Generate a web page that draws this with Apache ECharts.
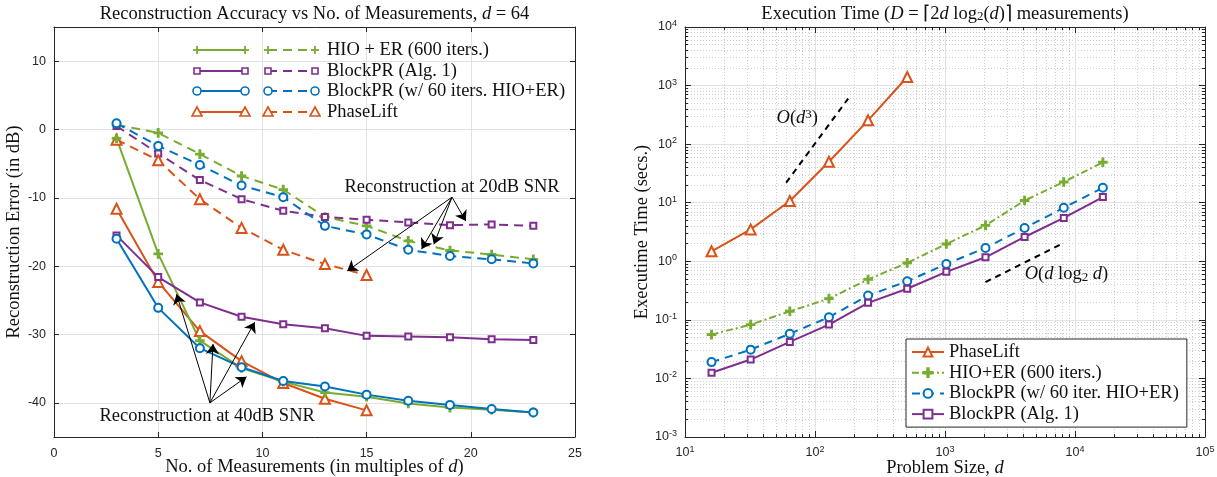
<!DOCTYPE html>
<html><head><meta charset="utf-8">
<script src="https://cdn.jsdelivr.net/npm/echarts@6/dist/echarts.min.js"></script>
<style>html,body{margin:0;padding:0;background:#fff}#c{width:1217px;height:477px}</style>
</head><body><div id="c"></div>
<script>
// ---------- LEFT CHART DATA ----------
const snrX = [3, 5, 7, 9, 11, 13, 15, 17, 19, 21, 23];
const plX = [3, 5, 7, 9, 11, 13, 15];
// 20 dB SNR (dashed)
const hio20 = [0.7, -0.5, -3.6, -6.8, -8.8, -12.8, -14.1, -16.3, -17.7, -18.3, -19.0];
const bpr20 = [0.5, -3.5, -7.4, -10.2, -11.9, -12.8, -13.2, -13.6, -14.0, -13.9, -14.1];
const bpr60_20 = [0.9, -2.4, -5.2, -8.2, -9.9, -14.1, -15.35, -17.6, -18.5, -19.0, -19.6];
const pl20 = [-1.5, -4.5, -10.2, -14.4, -17.6, -19.7, -21.3];
// 40 dB SNR (solid)
const hio40 = [-1.3, -18.2, -30.9, -34.9, -36.9, -38.5, -39.1, -40.1, -40.7, -41.0, -41.4];
const bpr40 = [-15.5, -21.6, -25.3, -27.4, -28.5, -29.1, -30.2, -30.3, -30.4, -30.7, -30.8];
const bpr60_40 = [-16.0, -26.1, -32.0, -34.8, -36.8, -37.6, -38.8, -39.7, -40.3, -40.9, -41.4];
const pl40 = [-11.6, -22.3, -29.5, -33.9, -37.1, -39.4, -41.1];
const leftYTicks = [-40, -30, -20, -10, 0, 10];
const leftLegendNames = ['HIO + ER (600 iters.)', 'BlockPR (Alg. 1)', 'BlockPR (w/ 60 iters. HIO+ER)', 'PhaseLift'];
// annotation arrows [from, to] in data units
const arrows20 = [[[19.1, -9.9], [19.76, -13.4]], [[19.1, -9.9], [18.23, -16.8]], [[19.1, -9.9], [17.64, -17.5]], [[19.1, -9.9], [14.07, -20.7]]];
const arrows40 = [[[7.48, -40.0], [5.88, -24.1]], [[7.48, -40.0], [7.63, -31.4]], [[7.48, -40.0], [9.63, -28.2]], [[7.48, -40.0], [9.24, -36.2]]];
const label20 = {text: 'Reconstruction at 20dB SNR', at: [19.1, -8.4]};
const label40 = {text: 'Reconstruction at 40dB SNR', at: [7.35, -41.9]};

// ---------- RIGHT CHART DATA ----------
const dSizes = [16, 32, 64, 128, 256, 512, 1024, 2048, 4096, 8192, 16384];
const plTime = [1.48, 3.5, 10.7, 50, 255, 1400];
const hioTime = [0.056, 0.083, 0.14, 0.23, 0.49, 0.94, 1.97, 4.1, 10.9, 22.6, 49];
const bpr60Time = [0.019, 0.031, 0.058, 0.111, 0.26, 0.456, 0.90, 1.69, 3.7, 8.2, 18];
const bprTime = [0.0125, 0.021, 0.042, 0.083, 0.195, 0.34, 0.66, 1.17, 2.6, 5.5, 12.5];
const cubicRef = [[60, 22], [180, 600]];
const dlogdRef = [[2048, 0.44], [8192, 2.06]];
const xDecades = [10, 100, 1000, 10000, 100000];
const yDecades = [0.001, 0.01, 0.1, 1, 10, 100, 1000, 10000];
const xMinor = []; [1, 2, 3, 4].forEach(k => { for (let m = 2; m <= 9; m++) xMinor.push(m * Math.pow(10, k)); });
const yMinor = []; [-3, -2, -1, 0, 1, 2, 3].forEach(k => { for (let m = 2; m <= 9; m++) yMinor.push(+(m * Math.pow(10, k)).toPrecision(3)); });
const rightNames = ['PhaseLift', 'HIO+ER (600 iters.)', 'BlockPR (w/ 60 iter. HIO+ER)', 'BlockPR (Alg. 1)'];

// ---------- STYLE ----------
const C = {green: '#77AC30', purple: '#7E2F8E', blue: '#0072BD', orange: '#D95319'};
const SERIF = 'Liberation Serif';
const SANS = 'Liberation Sans';
const FS = 18.5;
const AX = '#262626';
const GRID = '#e2e2e2';
const plusSym = 'path://M4.2,0H5.8V4.2H10V5.8H5.8V10H4.2V5.8H0V4.2H4.2Z';

const pairs = (xs, ys) => xs.map((x, i) => [x, ys[i]]);
function lseries(name, xs, ys, color, sym, size, dash, xi, yi, extra) {
  return Object.assign({
    name, type: 'line', xAxisIndex: xi, yAxisIndex: yi, data: pairs(xs, ys),
    symbol: sym, symbolSize: size, showSymbol: true, showAllSymbol: true, animation: false,
    lineStyle: {color, width: 2, type: dash || 'solid'},
    itemStyle: {color, borderColor: color, borderWidth: 1.6}, emphasis: {disabled: true}
  }, extra || {});
}
const rich = (sz) => ({
  n: {fontFamily: SERIF, fontSize: sz, color: '#111'},
  i: {fontFamily: SERIF, fontSize: sz, fontStyle: 'italic', color: '#111'}
});
const supLabel = v => '{b|10}{e|' + Math.round(Math.log10(v)) + '}';
const supRich = {b: {fontFamily: SANS, fontSize: 12.5, color: AX, lineHeight: 16}, e: {fontFamily: SANS, fontSize: 9, color: AX, verticalAlign: 'top', lineHeight: 16}};

const G0 = {left: 54, top: 27, width: 521, height: 410, outerBoundsMode: 'none'};
const G1 = {left: 685, top: 27, width: 520, height: 410, outerBoundsMode: 'none'};

const chart = echarts.init(document.getElementById('c'), null, {renderer: 'canvas'});
const axLine = {show: true, onZero: false, lineStyle: {color: AX, width: 1}};

const option = {
  animation: false,
  backgroundColor: '#fff',
  grid: [G0, G1],
  xAxis: [
    {gridIndex: 0, type: 'value', min: 0, max: 25, interval: 5, position: 'bottom',
      axisLine: axLine, axisTick: {show: true, inside: true, length: 5, lineStyle: {color: AX}},
      axisLabel: {color: AX, fontFamily: SANS, fontSize: 12.5, margin: 10},
      splitLine: {show: true, lineStyle: {color: GRID, width: 1}}},
    {gridIndex: 0, type: 'value', min: 0, max: 25, interval: 5, position: 'top',
      axisLine: axLine, axisTick: {show: true, inside: true, length: 5, lineStyle: {color: AX}},
      axisLabel: {show: false}, splitLine: {show: false}},
    {gridIndex: 1, type: 'log', logBase: 10, min: 10, max: 100000, position: 'bottom',
      axisLine: axLine, axisTick: {show: true, inside: true, length: 6, customValues: xDecades, lineStyle: {color: AX}},
      axisLabel: {customValues: xDecades, formatter: supLabel, rich: supRich, margin: 8},
      splitLine: {show: true, lineStyle: {color: GRID, width: 1}}},
    {gridIndex: 1, type: 'log', logBase: 10, min: 10, max: 100000, position: 'top',
      axisLine: axLine, axisTick: {show: true, inside: true, length: 6, customValues: xDecades, lineStyle: {color: AX}},
      axisLabel: {show: false}, splitLine: {show: false}},
    {gridIndex: 1, type: 'log', logBase: 10, min: 10, max: 100000, position: 'bottom',
      axisLine: {show: false}, axisTick: {show: true, inside: true, length: 3, customValues: xMinor, lineStyle: {color: AX}},
      axisLabel: {show: false}, splitLine: {show: true, lineStyle: {color: '#cfcfcf', width: 1, type: [1, 2]}}},
    {gridIndex: 1, type: 'log', logBase: 10, min: 10, max: 100000, position: 'top',
      axisLine: {show: false}, axisTick: {show: true, inside: true, length: 3, customValues: xMinor, lineStyle: {color: AX}},
      axisLabel: {show: false}, splitLine: {show: false}}
  ],
  yAxis: [
    {gridIndex: 0, type: 'value', min: -45, max: 15, position: 'left',
      axisLine: axLine, axisTick: {show: true, inside: true, length: 5, customValues: leftYTicks, lineStyle: {color: AX}},
      axisLabel: {customValues: leftYTicks, color: AX, fontFamily: SANS, fontSize: 12.5, margin: 8},
      splitLine: {show: true, lineStyle: {color: GRID, width: 1}},
      name: '{n|Reconstruction Error (in dB)}', nameLocation: 'middle', nameGap: 25, nameTextStyle: {rich: rich(FS)}},
    {gridIndex: 0, type: 'value', min: -45, max: 15, position: 'right',
      axisLine: axLine, axisTick: {show: true, inside: true, length: 5, customValues: leftYTicks, lineStyle: {color: AX}},
      axisLabel: {show: false}, splitLine: {show: false}},
    {gridIndex: 1, type: 'log', logBase: 10, min: 0.001, max: 10000, position: 'left',
      axisLine: axLine, axisTick: {show: true, inside: true, length: 6, customValues: yDecades, lineStyle: {color: AX}},
      axisLabel: {customValues: yDecades, formatter: supLabel, rich: supRich, margin: 8},
      splitLine: {show: true, lineStyle: {color: GRID, width: 1}},
      name: '{n|Executime Time (secs.)}', nameLocation: 'middle', nameGap: 33, nameTextStyle: {rich: rich(FS)}},
    {gridIndex: 1, type: 'log', logBase: 10, min: 0.001, max: 10000, position: 'right',
      axisLine: axLine, axisTick: {show: true, inside: true, length: 6, customValues: yDecades, lineStyle: {color: AX}},
      axisLabel: {show: false}, splitLine: {show: false}},
    {gridIndex: 1, type: 'log', logBase: 10, min: 0.001, max: 10000, position: 'left',
      axisLine: {show: false}, axisTick: {show: true, inside: true, length: 3, customValues: yMinor, lineStyle: {color: AX}},
      axisLabel: {show: false}, splitLine: {show: true, lineStyle: {color: '#cfcfcf', width: 1, type: [1, 2]}}},
    {gridIndex: 1, type: 'log', logBase: 10, min: 0.001, max: 10000, position: 'right',
      axisLine: {show: false}, axisTick: {show: true, inside: true, length: 3, customValues: yMinor, lineStyle: {color: AX}},
      axisLabel: {show: false}, splitLine: {show: false}}
  ],
  legend: {
    data: rightNames, left: 906, top: 339, orient: 'vertical', itemGap: 0.7, itemWidth: 32, itemHeight: 11,
    padding: [3, 8, 3, 5], backgroundColor: '#fff', borderColor: AX, borderWidth: 1, borderRadius: 0,
    textStyle: {fontFamily: SERIF, fontSize: FS, color: '#111', lineHeight: 20}, selectedMode: false
  },
  series: [
    // left, 20dB dashed
    lseries('HIO20', snrX, hio20, C.green, plusSym, 8, [9, 6], 0, 0),
    lseries('BPR20', snrX, bpr20, C.purple, 'emptyRect', 6, [9, 6], 0, 0),
    lseries('BPR60_20', snrX, bpr60_20, C.blue, 'emptyCircle', 8, [9, 6], 0, 0),
    lseries('PL20', plX, pl20, C.orange, 'emptyTriangle', 10, [9, 6], 0, 0, {
      markLine: {silent: true, symbol: ['none', 'arrow'], symbolSize: 10, animation: false,
        lineStyle: {color: '#000', width: 1, type: 'solid'}, label: {show: false}, emphasis: {disabled: true},
        data: arrows20.concat(arrows40).map(a => [{coord: a[0]}, {coord: a[1]}])}
    }),
    // left, 40dB solid
    lseries('PL40', plX, pl40, C.orange, 'emptyTriangle', 10, 'solid', 0, 0),
    lseries('HIO40', snrX, hio40, C.green, plusSym, 8, 'solid', 0, 0),
    lseries('BPR40', snrX, bpr40, C.purple, 'emptyRect', 6, 'solid', 0, 0),
    lseries('BPR60_40', snrX, bpr60_40, C.blue, 'emptyCircle', 8, 'solid', 0, 0),
    // right
    lseries(rightNames[0], dSizes.slice(0, plTime.length), plTime, C.orange, 'emptyTriangle', 10, 'solid', 2, 2, {
      markLine: {silent: true, symbol: ['none', 'none'], animation: false,
        lineStyle: {color: '#000', width: 2, type: [6, 5]}, label: {show: false}, emphasis: {disabled: true},
        data: [cubicRef, dlogdRef].map(r => [{coord: r[0]}, {coord: r[1]}])}
    }),
    lseries(rightNames[1], dSizes, hioTime, C.green, plusSym, 8, [7, 3, 2, 3], 2, 2),
    lseries(rightNames[2], dSizes, bpr60Time, C.blue, 'emptyCircle', 8, [8, 6], 2, 2),
    lseries(rightNames[3], dSizes, bprTime, C.purple, 'emptyRect', 6, 'solid', 2, 2)
  ]
};
chart.setOption(option);

// ---------- graphics: titles, axis names, left legend, annotations ----------
const P0 = xy => chart.convertToPixel({xAxisIndex: 0, yAxisIndex: 0}, xy);
const P1 = xy => chart.convertToPixel({xAxisIndex: 2, yAxisIndex: 2}, xy);
const gr = [];
function txt(x, y, text, align, sz) {
  const s = sz || FS;
  gr.push({type: 'text', x, y, silent: true, z: 100, style: {
    text, align: align || 'center', verticalAlign: 'middle', fontFamily: SERIF, fontSize: s, fill: '#111',
    rich: {
      n: {fontFamily: SERIF, fontSize: s, fill: '#111'},
      i: {fontFamily: SERIF, fontSize: s, fontStyle: 'italic', fill: '#111'},
      s: {fontFamily: SERIF, fontSize: s * 0.7, fill: '#111', verticalAlign: 'bottom'},
      u: {fontFamily: SERIF, fontSize: s * 0.7, fill: '#111', verticalAlign: 'top'}
    }}});
}
txt(314.5, 14, '{n|Reconstruction Accuracy vs No. of Measurements, }{i|d}{n| = 64}');
txt(945, 14, '{n|Execution Time (}{i|D}{n| = ⌈2}{i|d}{n| log}{s|2}{n|(}{i|d}{n|)⌉ measurements)}');
txt(314.5, 467, '{n|No. of Measurements (in multiples of }{i|d}{n|)}');
txt(945, 468, '{n|Problem Size, }{i|d}');
// annotations
let p = P0(label20.at); txt(p[0], p[1], '{n|' + label20.text + '}');
p = P0(label40.at); txt(p[0], p[1], '{n|' + label40.text + '}');
p = P1([73, 281]); txt(p[0], p[1], '{i|O}{n|(}{i|d}{u|3}{n|)}');
p = P1([4100, 0.6]); txt(p[0], p[1], '{i|O}{n|(}{i|d}{n| log}{s|2}{n| }{i|d}{n|)}', 'left');

// left legend (two samples per entry)
const legRows = [50, 71, 91, 112];
const legCols = [[197, 245, null], [268, 315, [9, 6]]];
const legStyle = [[C.green, 'plus'], [C.purple, 'rect'], [C.blue, 'circle'], [C.orange, 'tri']];
function marker(kind, color, x, y) {
  const st = {stroke: color, lineWidth: 1.6, fill: '#fff'};
  if (kind === 'plus') {
    gr.push({type: 'line', z: 100, shape: {x1: x - 4, y1: y, x2: x + 4, y2: y}, style: {stroke: color, lineWidth: 1.8}});
    gr.push({type: 'line', z: 100, shape: {x1: x, y1: y - 4, x2: x, y2: y + 4}, style: {stroke: color, lineWidth: 1.8}});
  } else if (kind === 'rect') {
    gr.push({type: 'rect', z: 100, shape: {x: x - 3, y: y - 3, width: 6, height: 6}, style: st});
  } else if (kind === 'circle') {
    gr.push({type: 'circle', z: 100, shape: {cx: x, cy: y, r: 4}, style: st});
  } else {
    gr.push({type: 'polygon', z: 100, shape: {points: [[x, y - 5], [x + 5, y + 4], [x - 5, y + 4]]}, style: st});
  }
}
legRows.forEach((y, i) => {
  const [color, kind] = legStyle[i];
  legCols.forEach(([x1, x2, dash]) => {
    gr.push({type: 'line', z: 99, shape: {x1, y1: y, x2, y2: y}, style: {stroke: color, lineWidth: 2, lineDash: dash || null}});
    marker(kind, color, x1, y); marker(kind, color, x2, y);
  });
  txt(327, y, '{n|' + leftLegendNames[i] + '}', 'left');
});
chart.setOption({graphic: gr});
</script>
</body></html>
